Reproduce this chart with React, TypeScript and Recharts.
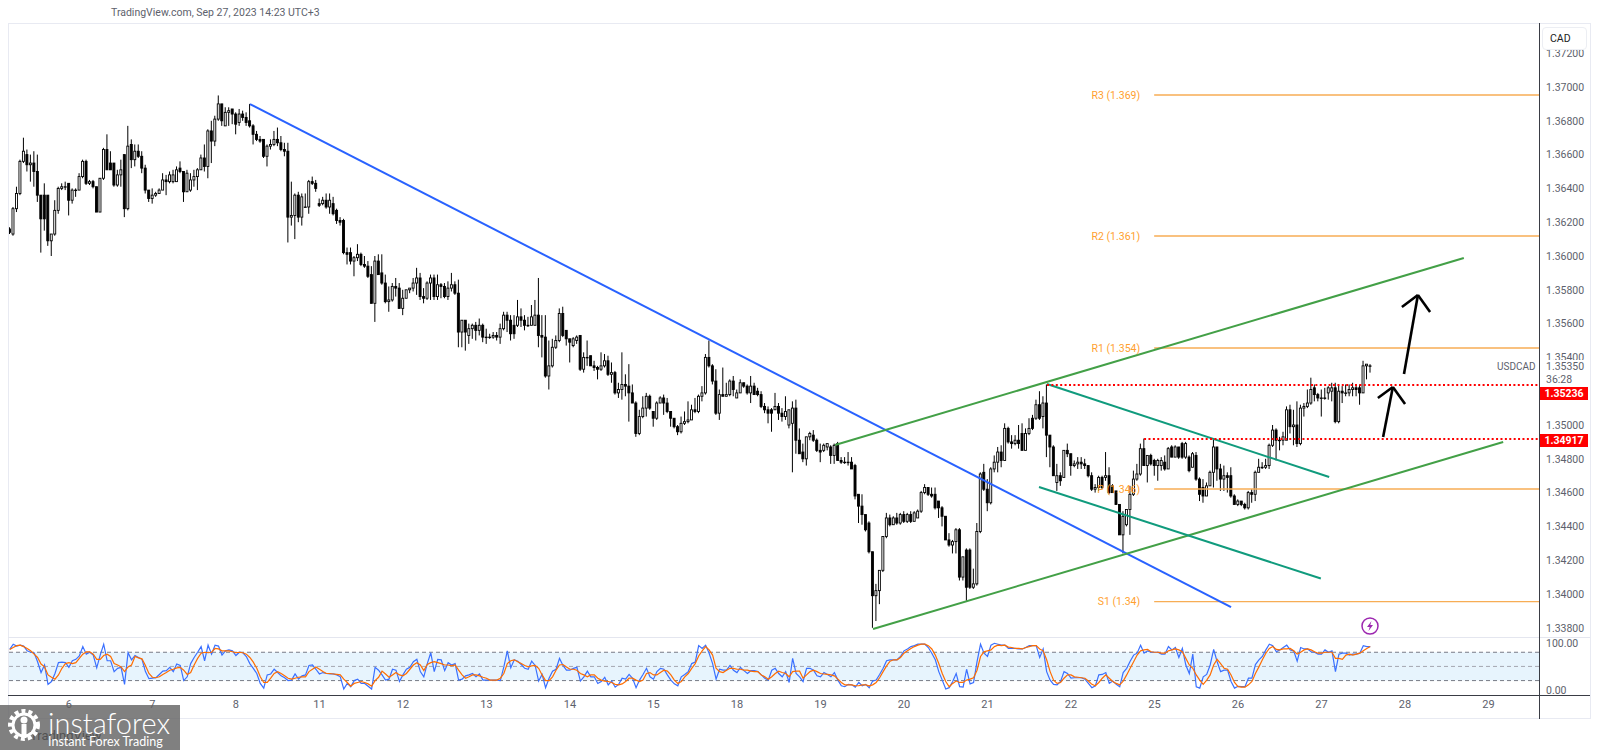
import React from 'react';
import { Bar, ComposedChart, Line, ReferenceArea, ReferenceLine, XAxis, YAxis } from 'recharts';

type Candle = [number, number, number, number];

// hourly candles as [open, high, low, close], pips above 1.3000
const sep05: Candle[] = [[616,617,613,614],[613,629,612,628],[628,641,626,637],[637,657,636,656],[656,670,655,662],[660,663,650,654],[654,660,644,655],[655,662,641,650],[650,660,632,636],[636,636,602,622],[636,643,615,622],[636,636,606,609],[609,613,600,613],[613,633,612,627],[627,641,625,640],[640,643,639,641],[641,644,639,641]];
const sep06: Candle[] = [[643,643,624,633],[633,640,631,639],[639,640,635,639],[639,649,639,647],[647,657,646,656],[656,657,642,643],[643,645,642,644],[644,645,640,641],[641,641,626,626],[626,646,626,646],[646,664,645,663],[663,672,651,651],[655,662,651,651],[655,655,641,642],[642,651,641,648],[648,657,641,651],[660,660,623,628],[628,677,627,665],[666,669,652,657],[657,666,653,662],[662,666,658,659],[659,662,649,652],[652,654,637,639],[639,639,632,634]];
const sep07: Candle[] = [[634,640,631,636],[636,638,635,637],[637,640,637,639],[639,649,639,645],[645,648,636,644],[644,650,643,648],[644,651,643,648],[644,653,644,651],[652,656,649,650],[650,650,632,638],[638,651,638,649],[639,649,638,645],[645,651,641,647],[647,652,639,651],[651,660,651,658],[658,666,650,653],[653,675,646,674],[674,680,655,668],[668,683,665,681],[681,695,680,690],[690,690,677,680],[677,688,677,685],[685,688,677,686],[687,687,678,684]];
const sep08: Candle[] = [[684,685,672,678],[679,687,677,684],[684,686,680,682],[682,685,677,679],[680,690,676,677],[677,678,666,672],[672,674,668,669],[669,671,667,668],[669,669,658,659],[659,666,653,665],[665,669,663,666],[666,674,665,669],[669,676,665,667],[667,671,662,663],[663,667,659,662],[662,667,608,623],[623,644,618,624],[624,637,610,636],[636,638,620,623],[623,637,618,635],[629,637,629,629],[629,645,625,644],[644,647,642,643],[643,645,638,640]];
const sep11: Candle[] = [[631,634,629,630],[631,635,630,633],[633,637,628,629],[629,637,625,633],[631,635,624,625],[627,628,619,621],[621,623,618,620],[621,622,601,602],[602,605,595,601],[602,605,595,597],[597,600,588,599],[599,607,597,601],[601,602,594,595],[595,600,593,594],[594,597,587,588],[589,594,572,572],[572,600,561,597],[597,601,589,589],[590,601,583,584],[584,589,572,573],[573,582,567,574],[574,584,573,582],[582,587,576,581],[581,584,569,569]];
const sep12: Candle[] = [[569,580,565,575],[575,580,575,580],[580,581,578,581],[581,587,579,584],[584,593,577,587],[587,590,574,576],[576,581,572,575],[575,585,574,584],[584,589,574,587],[587,589,574,576],[576,589,574,583],[583,584,575,582],[582,584,575,576],[576,585,574,581],[581,590,579,583],[583,585,577,578],[578,586,546,555],[555,562,546,562],[562,562,544,555],[553,560,548,557],[557,560,551,559],[559,561,550,556],[556,563,553,559],[559,560,549,552]];
const sep13: Candle[] = [[552,557,548,552],[552,554,551,552],[552,555,551,553],[553,555,550,552],[552,560,548,557],[557,567,556,565],[565,567,555,562],[562,565,550,554],[559,565,551,554],[559,574,558,564],[564,569,558,562],[562,565,556,559],[559,564,558,559],[559,571,559,564],[559,574,559,565],[565,587,546,553],[553,565,540,552],[552,565,528,529],[529,550,521,535],[535,551,534,546],[546,553,545,550],[550,569,549,566],[566,570,552,553],[556,556,547,551]];
const sep14: Candle[] = [[551,551,537,549],[547,552,546,551],[550,553,548,552],[553,553,532,533],[533,543,531,540],[540,550,535,540],[541,541,535,535],[535,538,532,534],[534,535,527,533],[533,543,532,535],[535,542,534,538],[538,541,529,530],[530,537,525,531],[531,532,518,519],[519,525,516,521],[521,543,515,524],[524,530,517,523],[523,536,502,519],[519,524,513,513],[513,514,493,495],[495,509,494,505],[505,517,504,510],[510,519,505,517],[517,518,509,510]];
const sep15: Candle[] = [[508,508,499,504],[504,514,503,513],[513,517,513,516],[516,518,506,513],[513,516,507,508],[508,508,499,504],[504,504,498,499],[499,500,494,496],[496,505,495,501],[501,508,500,502],[502,514,501,503],[503,512,503,509],[509,516,507,508],[508,518,507,517],[517,523,514,519],[519,542,518,540],[540,550,534,535],[535,536,524,526],[526,533,506,507],[507,521,503,518],[518,534,517,517],[517,525,517,518],[518,527,517,526],[526,529,517,521]];
const sep18: Candle[] = [[516,521,516,519],[519,527,519,525],[525,525,522,523],[523,524,518,519],[519,529,513,523],[523,525,518,518],[520,522,517,518],[518,520,510,511],[511,513,507,509],[509,511,501,507],[509,510,496,507],[509,519,509,511],[511,513,503,507],[507,510,502,505],[505,517,503,508],[500,509,498,509],[501,514,472,510],[510,515,483,491],[491,498,483,483],[484,489,478,480],[480,493,476,493],[493,496,491,495],[494,497,490,491],[491,492,484,485]];
const sep19: Candle[] = [[485,489,478,484],[485,489,484,488],[487,489,485,489],[487,488,477,482],[482,489,477,488],[489,490,479,479],[479,481,477,478],[478,481,477,478],[478,484,476,478],[478,481,474,474],[476,477,456,458],[459,459,442,452],[452,459,441,447],[447,447,437,438],[442,443,424,425],[425,425,380,399],[399,406,384,402],[402,414,394,414],[414,434,413,434],[434,448,433,445],[445,447,440,441],[441,446,441,445],[445,448,441,442],[442,448,441,447]];
const sep20: Candle[] = [[447,449,442,443],[443,448,442,447],[447,449,442,443],[443,449,443,448],[445,450,445,449],[449,461,448,460],[460,465,459,463],[463,463,458,459],[459,463,457,458],[459,463,450,451],[455,455,445,451],[451,452,440,446],[446,446,432,432],[432,436,428,429],[429,432,424,431],[431,439,424,438],[438,439,408,410],[410,422,408,422],[426,427,396,404],[426,427,403,404],[404,415,403,406],[406,442,405,437],[437,472,436,471],[472,477,461,462]];
const sep21: Candle[] = [[462,468,449,454],[454,475,453,474],[474,482,472,478],[478,487,472,484],[484,488,475,479],[479,501,479,498],[498,499,489,490],[490,494,486,489],[489,494,488,491],[491,500,486,489],[495,501,485,485],[485,498,485,495],[495,504,494,498],[504,506,497,498],[504,515,503,512],[512,520,503,504],[505,517,498,513],[513,524,481,494],[494,494,475,487],[487,488,470,470],[466,477,461,470],[470,472,464,467],[469,485,469,485],[485,489,481,483]];
const sep22: Candle[] = [[483,483,470,476],[476,479,475,477],[477,481,474,478],[478,481,474,477],[477,480,474,476],[476,476,469,470],[470,472,461,462],[462,465,460,463],[463,470,461,469],[469,470,462,463],[469,484,467,470],[470,475,459,460],[464,465,460,460],[461,461,453,453],[453,453,435,435],[435,449,424,446],[441,450,440,450],[450,464,435,459],[459,473,458,468],[468,477,467,471],[471,489,470,486],[486,492,476,476],[476,482,466,482],[482,483,476,477]];
const sep25: Candle[] = [[479,480,470,476],[476,480,467,479],[476,481,473,479],[478,482,473,474],[474,487,474,486],[487,488,481,481],[481,488,481,487],[487,487,480,481],[489,490,480,481],[481,490,480,489],[481,482,472,473],[475,484,475,483],[482,484,467,468],[468,469,455,459],[463,468,454,458],[458,466,458,464],[464,473,464,472],[472,492,463,487],[487,487,467,474],[474,477,461,468],[468,476,461,470],[470,472,460,469],[470,475,457,458],[458,459,453,453]];
const sep26: Candle[] = [[453,456,452,455],[455,455,452,453],[453,454,450,451],[451,461,450,460],[460,462,454,459],[459,473,455,472],[472,480,472,475],[475,478,474,475],[475,480,474,476],[476,489,474,488],[488,500,487,497],[497,498,479,491],[491,493,485,491],[491,496,488,493],[491,511,491,509],[509,512,495,499],[499,509,488,500],[500,514,487,489],[489,512,488,510],[510,513,505,511],[511,521,510,513],[513,528,512,521],[522,524,514,518],[518,519,514,516]];
const sep27: Candle[] = [[516,521,505,516],[516,522,515,516],[519,523,515,522],[520,525,514,522],[522,525,501,502],[502,524,501,520],[520,523,513,519],[519,524,517,519],[519,524,517,521],[521,525,517,522],[522,524,517,521],[522,524,512,519],[519,538,519,535],[535,536,527,536],[535,536,531,535]];

const stochK = [
  86,97,93,95,93,83,80,79,60,37,53,12,18,35,58,59,58,48,62,65,72,92,76,80,74,47,74,97,62,62,39,46,48,12,79,64,73,69,65,39,
  24,25,26,33,40,41,48,39,55,52,20,28,56,69,80,92,62,95,76,95,93,74,83,85,83,73,80,79,71,56,46,35,14,4,32,34,44,37,30,26,
  20,21,34,23,30,32,52,53,44,34,37,35,34,34,32,28,2,14,7,20,23,14,14,8,2,48,42,32,21,23,44,42,18,32,44,48,60,65,39,28,
  56,79,39,65,64,41,58,53,56,21,23,30,32,35,28,34,21,21,21,21,21,20,49,83,47,64,61,54,46,44,61,52,19,33,5,25,40,44,67,52,
  42,42,46,48,19,28,40,28,28,14,18,27,11,19,6,12,25,23,33,25,5,21,33,46,28,23,39,46,44,32,21,13,9,28,33,39,56,59,94,88,
  95,78,56,23,44,42,42,52,42,37,48,41,35,41,41,39,32,25,21,42,46,35,28,39,16,67,35,28,18,46,46,42,30,28,37,33,28,37,21,9,
  7,12,11,6,16,9,12,5,19,21,33,46,62,64,64,64,71,83,87,92,94,97,97,97,90,78,64,39,21,2,5,18,35,7,6,44,13,16,60,97,
  78,71,95,99,97,95,95,88,88,88,87,87,90,94,94,94,69,87,39,21,12,11,18,39,35,25,26,26,26,23,14,5,9,32,33,37,14,19,12,7,
  37,46,61,74,78,95,78,83,80,80,80,76,76,92,85,90,69,88,53,35,76,7,4,28,33,53,86,60,39,42,42,18,4,8,7,7,25,25,54,64,
  71,85,97,94,81,85,90,95,85,83,61,90,87,87,81,80,76,76,85,80,83,39,76,78,78,74,76,76,78,94,92,92,
];
const stochD = [
  86,90,94,95,92,88,83,76,69,55,49,32,27,23,32,46,56,58,56,58,67,76,81,81,76,65,65,73,76,71,56,53,49,39,49,53,71,68,66,52,
  35,27,26,28,33,37,42,44,47,48,42,33,37,53,67,78,80,79,80,88,87,83,83,83,81,79,80,79,76,69,59,46,28,16,16,25,35,39,35,30,
  25,23,25,27,28,28,39,44,49,44,39,35,35,34,33,32,23,16,8,14,16,18,16,13,8,20,27,40,34,27,32,37,32,30,35,44,53,58,53,41,
  54,58,60,58,56,53,53,51,53,42,32,25,28,32,32,30,27,25,21,21,21,25,35,56,62,64,60,56,52,49,51,52,46,32,20,20,28,42,53,54,
  49,44,44,42,35,32,28,32,32,25,21,19,18,16,12,11,13,18,25,25,21,18,21,35,37,32,32,37,42,40,32,21,14,18,28,35,46,56,72,83,
  92,85,74,46,39,37,42,46,46,44,44,42,42,40,39,39,32,28,23,28,35,40,37,35,28,39,40,40,25,32,39,42,39,35,34,33,32,30,23,16,
  11,11,11,9,9,11,11,9,11,16,26,39,51,61,64,64,69,78,83,88,92,95,97,97,94,87,74,56,35,18,7,14,19,16,16,21,23,26,42,71,
  81,83,85,92,95,94,95,91,90,88,88,87,90,92,94,94,87,83,64,39,21,14,16,25,32,32,28,27,26,25,19,12,9,16,25,32,25,18,14,11,
  19,32,46,60,74,83,85,86,81,80,80,78,78,83,85,87,85,81,67,53,46,32,21,12,21,32,53,65,56,46,44,32,16,7,6,6,11,18,35,49,
  64,78,88,92,86,85,87,87,88,83,76,80,85,87,85,81,78,78,80,80,80,67,67,65,74,76,74,76,78,83,88,92,
];

// tick labels
const priceTicks = [1.338,1.34,1.342,1.344,1.346,1.348,1.35,1.352,1.354,1.356,1.358,1.36,1.362,1.364,1.366,1.368,1.37,1.372];
const dayLabels = ['6','7','8','11','12','13','14','15','18','19','20','21','22','25','26','27','28','29'];
const stochTicks = [0, 100];

// drawings as [bar index, pips above 1.3000]
const blueTrend = [[69.05,689.9],[351,392.3]];
const greenUpper = [[237.2,488.2],[417.9,598.8]];
const greenLower = [[248.1,379.3],[429.2,489.9]];
const tealUpper = [[298.1,524.3],[379.2,469.2]];
const tealLower = [[295.8,463.3],[376.8,409.2]];
const resistance = [[298.1,523.6],[439.5,523.6]];
const support = [[326,491.7],[439.5,491.7]];
const arrowLow = [[[394.7,492.9],[397.5,522.5]],[[393.2,516],[397.5,522.5]],[[401,512.4],[397.5,522.5]]];
const arrowHigh = [[[400.7,530.2],[404.7,576.9]],[[400.1,569.8],[404.7,576.9]],[[408.2,566.9],[404.7,576.9]]];
const pivotNames = ['R3 (1.369)','R2 (1.361)','R1 (1.354)','P (1.346)','S1 (1.34)'];
const pivotLevels = [695.3,611.8,545.6,462.1,395.5];
const pivotStart = 328.9;
const lastBar = 439.5;

const toPrice = (p: number) => 1.3 + p / 10000;

const candleRows = [sep05,sep06,sep07,sep08,sep11,sep12,sep13,sep14,sep15,sep18,sep19,sep20,sep21,sep22,sep25,sep26,sep27]
  .flat()
  .map(([o, h, l, c], r) => ({ r, open: toPrice(o), high: toPrice(h), low: toPrice(l), close: toPrice(c), range: [toPrice(l), toPrice(h)] }));
const stochRows = stochK.map((k, r) => ({ r, k, d: stochD[r] }));
const dayTicks = dayLabels.map((_, i) => 17 + i * 24);

const X_DOMAIN: [number, number] = [-0.5, lastBar];
const FONT = 'Roboto, "Liberation Sans", sans-serif';
const AXIS_TEXT = '#5d616c';

const CandleShape = (props: any) => {
  const { x, y, width, height, payload } = props;
  const span = payload.high - payload.low || 1;
  const toY = (v: number) => y + ((payload.high - v) / span) * height;
  const top = toY(Math.max(payload.open, payload.close));
  const bottom = toY(Math.min(payload.open, payload.close));
  const mid = x + width / 2;
  const up = payload.close >= payload.open;
  return (
    <g>
      <line x1={mid} x2={mid} y1={y} y2={y + height} stroke="#000" strokeWidth={1} />
      <rect x={x + 0.5} y={top} width={width - 1} height={Math.max(bottom - top, 0.5)} fill={up ? '#fff' : '#000'} stroke="#000" strokeWidth={0.9} />
    </g>
  );
};

const segment = (pts: number[][]) => pts.map(([x, y]) => ({ x, y: toPrice(y) }));

const abs = (left: number, top: number, extra: React.CSSProperties = {}): React.CSSProperties => ({
  position: 'absolute', left, top, fontFamily: FONT, whiteSpace: 'nowrap', ...extra,
});

const App = () => {
  return (
    <div style={{ position: 'absolute', left: 0, top: 0, width: 1600, height: 750, background: '#fff', overflow: 'hidden' }}>
      <div style={abs(111, 6, { fontSize: 10.5, color: AXIS_TEXT, lineHeight: '14px' })}>TradingView.com, Sep 27, 2023 14:23 UTC+3</div>

      <div style={{ position: 'absolute', left: 0, top: 0 }}>
        <ComposedChart width={1600} height={637} data={candleRows} margin={{ top: 23, right: 9, bottom: 0, left: 8 }}>
          <XAxis dataKey="r" type="number" domain={X_DOMAIN} hide allowDataOverflow ticks={dayTicks} />
          <YAxis
            orientation="right"
            width={52}
            domain={[1.337456, 1.373787]}
            type="number"
            allowDataOverflow
            ticks={priceTicks}
            interval={0}
            tickFormatter={(v: number) => v.toFixed(5)}
            axisLine={false}
            tickLine={false}
            tickSize={0}
            tickMargin={7}
            tick={{ fontSize: 10.5, fill: AXIS_TEXT, fontFamily: FONT }}
          />
          {pivotLevels.map((lvl, i) => (
            <ReferenceLine
              key={pivotNames[i]}
              segment={segment([[pivotStart, lvl], [lastBar, lvl]])}
              stroke="#f7ad55"
              strokeWidth={1.4}
              label={{ value: pivotNames[i], position: 'left', offset: 14, fill: '#ff9f2f', fontSize: 10.5, fontFamily: FONT }}
            />
          ))}
          <Bar dataKey="range" barSize={3} shape={CandleShape} isAnimationActive={false} />
          <ReferenceLine segment={segment(blueTrend)} stroke="#2962ff" strokeWidth={2} />
          <ReferenceLine segment={segment(greenUpper)} stroke="#43a047" strokeWidth={2} />
          <ReferenceLine segment={segment(greenLower)} stroke="#43a047" strokeWidth={2} />
          <ReferenceLine segment={segment(tealUpper)} stroke="#109b7d" strokeWidth={2} />
          <ReferenceLine segment={segment(tealLower)} stroke="#109b7d" strokeWidth={2} />
          <ReferenceLine segment={segment(resistance)} stroke="#ff0000" strokeWidth={2} strokeDasharray="2 2.4" />
          <ReferenceLine segment={segment(support)} stroke="#ff0000" strokeWidth={2} strokeDasharray="2 2.4" />
          {[...arrowLow, ...arrowHigh].map((pts, i) => (
            <ReferenceLine key={i} segment={segment(pts)} stroke="#000" strokeWidth={2.6} />
          ))}
        </ComposedChart>
      </div>

      <div style={{ position: 'absolute', left: 0, top: 637 }}>
        <ComposedChart width={1600} height={83} data={stochRows} margin={{ top: 0, right: 9, bottom: 0, left: 8 }}>
          <XAxis
            dataKey="r"
            type="number"
            domain={X_DOMAIN}
            allowDataOverflow
            ticks={dayTicks}
            interval={0}
            height={24.5}
            tickFormatter={(v: number) => dayLabels[dayTicks.indexOf(v)]}
            axisLine={false}
            tickLine={false}
            tickSize={0}
            tickMargin={5}
            tick={{ fontSize: 11, fill: AXIS_TEXT, fontFamily: FONT }}
          />
          <YAxis
            orientation="right"
            width={52}
            type="number"
            domain={[-11.6, 112.3]}
            allowDataOverflow
            ticks={stochTicks}
            interval={0}
            tickFormatter={(v: number) => v.toFixed(2)}
            axisLine={false}
            tickLine={false}
            tickSize={0}
            tickMargin={7}
            tick={{ fontSize: 10.5, fill: AXIS_TEXT, fontFamily: FONT }}
          />
          <ReferenceArea y1={20} y2={80} fill="#e3f2fd" fillOpacity={0.85} stroke="none" />
          <ReferenceLine y={80} stroke="#787b86" strokeDasharray="4 3" />
          <ReferenceLine y={50} stroke="#a4a7b0" strokeDasharray="4 3" />
          <ReferenceLine y={20} stroke="#787b86" strokeDasharray="4 3" />
          <Line dataKey="k" stroke="#3a70ff" strokeWidth={1.2} dot={false} isAnimationActive={false} />
          <Line dataKey="d" stroke="#ff6d00" strokeWidth={1.2} dot={false} isAnimationActive={false} />
        </ComposedChart>
      </div>

      {/* pane frame */}
      <div style={{ position: 'absolute', left: 8, top: 23, width: 1583, height: 696, border: '1px solid #e8eaf2', boxSizing: 'border-box', pointerEvents: 'none' }} />
      <div style={{ position: 'absolute', left: 8, top: 637, width: 1582, height: 1, background: '#e4e6ef' }} />
      <div style={{ position: 'absolute', left: 8, top: 695, width: 1582, height: 1, background: '#3a3d45' }} />
      <div style={{ position: 'absolute', left: 1539, top: 23, width: 1, height: 696, background: '#3a3d45' }} />

      {/* price scale tags */}
      <div style={abs(1542, 27, { width: 45, height: 23, background: '#fff', border: '1px solid #eceef3', borderRadius: 4, boxSizing: 'border-box', fontSize: 10.5, color: '#222', lineHeight: '21px', paddingLeft: 7 })}>CAD</div>
      <div style={abs(1540, 360, { width: 50, height: 26, background: '#fff' })} />
      <div style={abs(1497, 360, { fontSize: 10, color: AXIS_TEXT, lineHeight: '13px' })}>USDCAD</div>
      <div style={abs(1546, 360, { fontSize: 10.5, color: AXIS_TEXT, lineHeight: '13px' })}>1.35350</div>
      <div style={abs(1546, 373, { fontSize: 10.5, color: AXIS_TEXT, lineHeight: '13px' })}>36:28</div>
      <div style={abs(1540, 387, { width: 48, height: 13, background: '#ff0000', color: '#fff', fontSize: 10.5, fontWeight: 700, lineHeight: '13px', textAlign: 'center' })}>1.35236</div>
      <div style={abs(1540, 434, { width: 48, height: 13, background: '#ff0000', color: '#fff', fontSize: 10.5, fontWeight: 700, lineHeight: '13px', textAlign: 'center' })}>1.34917</div>

      {/* alert icon */}
      <svg style={{ position: 'absolute', left: 1360, top: 616 }} width={20} height={20}>
        <circle cx={10} cy={10} r={8} fill="#fff" stroke="#9c27b0" strokeWidth={1.5} />
        <path d="M11.5 5 L7 11 L9.7 11 L8.5 15 L13 9 L10.3 9 Z" fill="#9c27b0" />
      </svg>

      {/* watermark sits over the page, the axis and the faint logo show through */}
      <div style={abs(30, 729, { fontSize: 13, color: '#131722', lineHeight: '14px' })}>TradingView</div>
      <div style={{ position: 'absolute', left: 0, top: 705, width: 180, height: 45, background: 'rgba(96,96,96,0.8)', overflow: 'hidden' }}>
        <svg style={{ position: 'absolute', left: 6, top: 2 }} width={36} height={36}>
          <circle cx={18} cy={18} r={14} fill="none" stroke="#fff" strokeWidth={4} strokeDasharray="4 3" />
          <circle cx={18} cy={18} r={11} fill="none" stroke="#fff" strokeWidth={3} />
          <circle cx={18} cy={13} r={3.5} fill="#fff" />
          <rect x={15.5} y={17} width={5} height={14} fill="#fff" />
        </svg>
        <div style={abs(48, 2, { fontSize: 29, fontWeight: 300, color: '#fff', lineHeight: '32px', fontFamily: 'Lato, sans-serif' })}>instaforex</div>
        <div style={abs(48, 30, { fontSize: 12.5, color: '#fff', lineHeight: '14px', fontFamily: 'Lato, sans-serif' })}>Instant Forex Trading</div>
      </div>
    </div>
  );
};

export default App;
